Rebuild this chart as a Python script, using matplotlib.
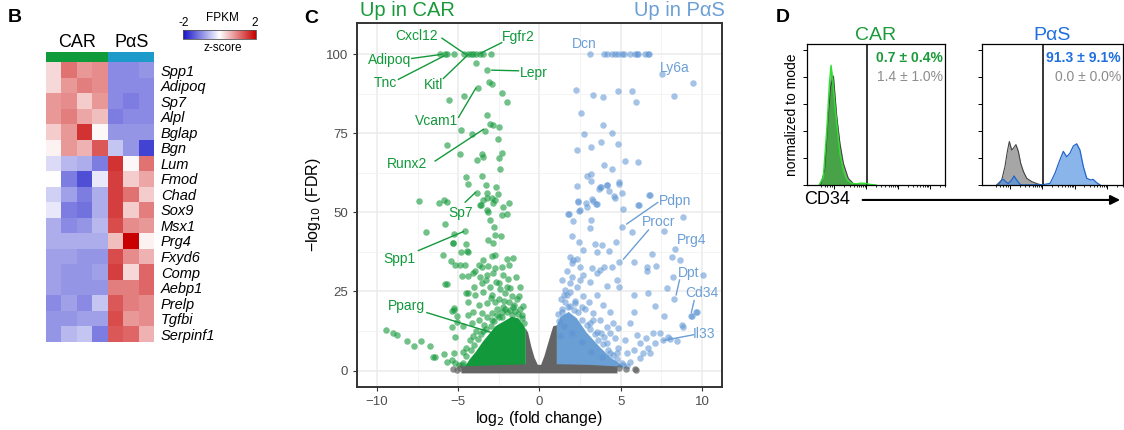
import matplotlib

matplotlib.use("Agg")
import matplotlib.pyplot as plt  # noqa: E402
import numpy as np  # noqa: E402
from matplotlib.cm import ScalarMappable  # noqa: E402
from matplotlib.colors import LinearSegmentedColormap, Normalize  # noqa: E402

plt.rcParams.update(
    {
        "font.family": ["Liberation Sans", "DejaVu Sans"],
        "font.size": 10,
        "figure.facecolor": "white",
        "axes.facecolor": "white",
    }
)

# ---- panel B: heatmap (z-score of FPKM) ----
genes = ["Spp1", "Adipoq", "Sp7", "Alpl", "Bglap", "Bgn", "Lum", "Fmod", "Chad",
         "Sox9", "Msx1", "Prg4", "Fxyd6", "Comp", "Aebp1", "Prelp", "Tgfbi", "Serpinf1"]
groups = ["CAR", "PαS"]
group_sizes = [4, 3]
zscores = [
    [0.3, 1.1, 0.8, 0.9, -1.0, -1.0, -0.9],
    [0.3, 0.8, 1.0, 0.9, -1.0, -1.0, -1.0],
    [0.8, 0.9, 0.4, 0.8, -1.0, -1.1, -1.0],
    [0.8, 1.0, 0.7, 0.5, -1.1, -1.0, -1.0],
    [0.4, 0.8, 1.6, 0.05, -0.9, -0.9, -0.9],
    [0.1, 0.8, 0.6, 1.3, -0.5, -0.9, -1.6],
    [-0.3, -0.6, -0.7, -1.1, 1.6, 0.05, 1.1],
    [0.0, -1.1, -1.5, -0.2, 1.5, 0.4, 0.7],
    [-0.4, -0.8, -1.1, -0.7, 1.5, 1.1, 0.4],
    [-0.2, -1.1, -1.2, -0.7, 1.5, 0.4, 1.0],
    [-0.7, -1.0, -0.9, -0.6, 1.4, 0.9, 0.8],
    [-0.7, -0.7, -0.7, -0.7, 0.5, 2.0, 0.1],
    [-0.8, -0.8, -0.9, -0.9, 1.4, 0.9, 0.6],
    [-0.8, -0.9, -0.9, -0.8, 1.5, 0.3, 1.2],
    [-0.8, -0.9, -0.9, -0.9, 1.0, 1.0, 1.2],
    [-1.0, -0.8, -1.0, -0.5, 1.3, 1.0, 0.9],
    [-0.9, -0.9, -0.8, -0.8, 1.4, 0.8, 0.9],
    [-0.9, -0.6, -0.5, -1.1, 1.3, 1.2, 0.6],
]

# ---- panel C: volcano (log2 fold change, -log10 FDR) ----
car_x = [-6.11, -5.80, -5.66, -5.25, -4.62, -4.37, -4.23, -4.06, -3.92, -3.65, -3.49, -3.00,
         -3.90, -3.20, -3.10, -2.93, -3.79, -4.62, -5.54, -2.28, -2.01, -3.24, -3.04, -2.87,
         -2.48, -4.82, -4.14, -3.34, -2.54, -5.70, -4.92, -3.55, -3.49, -2.32, -2.46, -3.86,
         -2.42, -4.51, -3.55, -4.37, -3.30, -2.67, -3.86, -3.24, -2.58, -7.41, -6.17, -5.87,
         -5.70, -3.69, -3.45, -3.24, -2.83, -1.87, -2.22, -3.24, -2.93, -2.73, -3.59, -3.14,
         -2.32, -2.01, -3.04, -2.77, -4.57, -5.80, -6.99, -2.73, -3.18, -2.83, -2.36, -5.33,
         -4.82, -4.47, -5.91, -3.45, -2.93, -2.73, -2.01, -1.60, -5.44, -5.19, -4.88, -4.57,
         -3.75, -3.55, -3.14, -2.73, -2.32, -1.87, -4.78, -4.41, -4.06, -3.65, -3.24, -2.83,
         -2.22, -1.91, -1.46, -5.80, -5.70, -3.55, -3.04, -2.52, -2.01, -4.51, -4.37, -3.96,
         -3.45, -2.93, -2.15, -1.70, -1.29, -5.23, -5.40, -4.37, -3.75, -3.24, -2.73, -2.22,
         -1.54, -5.09, -4.41, -4.06, -3.55, -2.93, -2.32, -1.70, -5.38, -5.19, -4.68, -4.16,
         -9.44, -8.99, -8.78, -8.16, -7.71, -7.28, -6.73, -6.42, -6.56, -5.87, -5.70, -5.40,
         -5.29, -4.98, -4.68, -5.19, -4.78, -5.25, -5.35, -4.53, -4.41, -3.96, -5.29, -5.09,
         -3.90, -3.40, -2.90, -2.50, -2.00, -1.50, -1.20, -4.30, -4.50, -1.10, -3.70, -3.20,
         -2.60, -1.90, -1.40, -3.00, -2.50, -4.00, -3.30, -2.70, -2.40, -1.80, -1.20,
         -4.70, -4.50, -4.20, -4.00, -3.80, -3.60, -3.30, -3.00, -2.80, -2.60, -2.30, -2.10,
         -1.80, -1.60, -1.30, -1.05, -0.95, -4.40, -3.60, -2.20, -1.00, -3.50, -2.90, -1.60,
         -4.10, -3.30, -2.00, -1.20, -2.60, -3.80]
car_y = [100, 100, 100, 100, 100, 100, 100, 100, 100, 100, 100, 100,
         97.1, 94.9, 91.3, 90.5, 89.4, 86.8, 85.4, 87.6, 84.9, 80.7, 77.9, 77.5,
         77.1, 76.0, 74.7, 75.8, 73.2, 71.1, 68.3, 68.4, 67.6, 68.8, 67.0, 66.5,
         63.6, 61.3, 61.5, 58.8, 58.6, 57.9, 56.0, 56.0, 55.7, 53.5, 52.8, 53.9,
         53.1, 52.3, 53.9, 54.4, 52.8, 52.8, 51.6, 50.7, 54.4, 53.9, 52.3, 50.2,
         49.2, 49.3, 47.6, 45.5, 44.1, 46.2, 43.7, 42.8, 41.3, 40.2, 42.5, 40.2,
         37.6, 37.7, 36.5, 34.9, 36.2, 36.4, 35.3, 35.5, 34.6, 33.4, 33.4, 33.4,
         33.4, 32.6, 33.1, 32.3, 32.6, 33.4, 29.9, 29.9, 30.9, 29.7, 30.2, 30.7,
         30.2, 28.8, 29.7, 27.4, 27.4, 27.6, 26.5, 27.6, 26.5, 24.4, 24.4, 23.9,
         24.9, 23.9, 24.4, 23.4, 23.4, 19.7, 18.9, 21.8, 20.7, 21.3, 21.8, 20.2,
         20.7, 17.1, 17.6, 18.6, 18.1, 18.1, 18.6, 17.6, 13.9, 10.7, 14.1, 14.9,
         12.8, 11.8, 11.3, 9.2, 7.9, 9.4, 7.6, 4.4, 4.4, 5.2, 2.8, 3.4,
         5.5, 1.8, 6.0, 2.5, 1.8, 43.1, 40.2, 39.9, 37.6, 31.3, 19.2, 15.2,
         12.5, 14.5, 16.0, 16.8, 18.5, 18.8, 19.5, 9.5, 7.0, 17.5, 16.0, 17.0,
         19.5, 21.5, 22.5, 22.8, 22.5, 26.5, 28.5, 28.0, 25.8, 26.0, 26.5,
         2.5, 4.5, 6.5, 8.0, 10.0, 11.5, 13.0, 14.0, 15.5, 17.5, 17.0, 19.5,
         19.0, 20.0, 18.0, 16.5, 15.0, 1.5, 4.0, 22.0, 20.5, 12.5, 11.0, 15.0,
         11.0, 8.0, 14.0, 12.0, 12.0, 3.5]

pas_x = [3.12, 3.98, 4.14, 4.45, 4.66, 4.86, 5.07, 5.21, 5.58, 5.89, 5.99, 6.09, 6.50, 6.65,
         6.77, 7.53, 9.44, 8.25, 2.26, 3.32, 3.88, 4.86, 5.72, 5.95, 2.56, 3.94, 2.75, 4.49,
         2.30, 3.18, 3.79, 4.82, 4.00, 4.49, 5.29, 6.09, 2.95, 3.18, 3.18, 2.28, 3.69, 3.79,
         4.14, 4.31, 4.92, 5.07, 6.81, 2.40, 2.46, 2.87, 3.24, 3.53, 4.66, 5.17, 6.13, 1.78,
         8.82, 3.73, 4.18, 4.92, 4.59, 6.77, 3.28, 3.49, 2.40, 2.50, 6.09, 2.95, 1.83, 2.05,
         3.18, 3.10, 5.07, 5.72, 7.69, 2.03, 2.46, 2.71, 3.43, 3.84, 4.25, 4.72, 3.53, 1.85,
         2.09, 2.30, 1.99, 2.50, 3.22, 3.73, 3.98, 4.45, 4.92, 5.79, 6.91, 8.14, 8.35, 8.66,
         7.18, 6.61, 10.09, 8.20, 7.84, 8.29, 6.71, 5.79, 4.80, 4.92, 4.14, 3.53, 3.12, 7.12,
         7.67, 9.31, 9.64, 8.76, 8.86, 7.43, 6.97, 6.57, 5.99, 5.58, 5.79, 4.86, 4.35, 5.27,
         6.20, 6.71, 7.12, 7.63, 8.04, 6.40, 6.20, 5.58, 5.17, 4.76, 3.84, 6.81, 7.94, 8.45,
         9.68, 9.37, 1.37, 1.58, 1.48, 1.89, 2.30, 2.71, 2.19, 2.61, 3.02, 3.53, 3.94, 4.35,
         1.78, 1.37, 3.73, 4.55, 3.12, 4.14, 3.53, 4.66, 4.14, 4.86, 4.35, 5.37, 5.79, 1.99,
         1.68, 2.71, 2.50, 1.89, 3.32, 6.60,
         1.20, 1.15, 1.40, 1.60, 1.90, 2.10, 2.40, 2.60, 2.90, 3.10, 3.40, 3.60, 3.90, 4.20,
         4.50, 4.80, 5.10, 5.40, 1.30, 1.70, 2.20, 2.80, 3.30, 3.80, 4.00, 1.50, 2.00, 2.60,
         3.20, 1.25]
pas_y = [100, 100, 100, 100, 100, 100, 100, 100, 100, 100, 100, 100, 100, 100,
         100, 93.6, 90.9, 86.8, 88.6, 87.2, 86.3, 88.3, 88.4, 84.9, 81.4, 77.7, 74.6, 75.2,
         69.8, 70.6, 72.1, 71.6, 64.9, 63.7, 66.3, 65.8, 61.6, 62.1, 60.0, 58.3, 57.3, 57.9,
         58.6, 56.7, 59.5, 56.0, 55.6, 53.5, 50.5, 52.8, 54.1, 52.6, 54.6, 51.1, 52.2, 49.4,
         48.4, 58.0, 58.6, 58.9, 55.2, 55.5, 53.7, 52.6, 53.4, 50.7, 52.3, 51.8, 49.5, 47.3,
         47.6, 45.0, 45.3, 43.7, 44.2, 42.5, 40.7, 38.1, 39.9, 39.7, 37.8, 40.7, 37.6, 35.8,
         34.9, 35.2, 33.9, 32.6, 32.3, 31.8, 32.6, 32.6, 34.4, 34.4, 36.8, 36.0, 38.3, 34.9,
         33.1, 31.6, 30.2, 29.4, 26.0, 22.5, 24.4, 23.9, 28.6, 26.5, 26.7, 30.7, 28.1, 20.5,
         17.1, 17.1, 18.6, 14.4, 13.7, 12.0, 12.0, 10.2, 11.3, 14.9, 18.6, 13.4, 11.8, 9.7,
         8.6, 7.1, 8.6, 9.5, 9.9, 5.5, 3.9, 2.8, 1.8, 5.5, 4.4, 5.5, 10.7, 9.2,
         18.6, 17.1, 28.6, 25.5, 23.9, 24.9, 26.5, 23.4, 21.3, 20.2, 21.8, 23.9, 20.7, 18.6,
         20.2, 18.6, 16.0, 14.9, 14.9, 13.9, 12.3, 10.2, 8.6, 7.1, 5.5, 5.5, 6.5, 29.7,
         31.3, 30.2, 28.6, 27.6, 18.1, 32.8,
         15.5, 18.0, 19.5, 21.5, 20.5, 19.0, 18.5, 16.0, 14.5, 13.0, 11.5, 9.5, 8.5, 6.5,
         5.0, 3.5, 2.5, 1.5, 22.5, 24.0, 22.0, 19.5, 16.0, 12.0, 10.5, 14.0, 12.0, 9.0,
         6.0, 11.0]

ns_x = [-5.33, -5.10, -4.90, 4.90, 5.30, 5.90, 5.95]
ns_y = [0.5, 0.3, 0.9, 0.8, 0.4, 0.5, 0.2]

# outlines of the saturated, over-plotted cores
car_core_x = [-4.6, -4.3, -3.9, -3.5, -3.1, -2.7, -2.2, -1.7, -1.3, -1.0, -0.84, -0.84]
car_core_y = [1.0, 3.5, 6.0, 9.0, 11.5, 14.0, 15.5, 17.0, 16.5, 14.5, 13.0, 1.0]
pas_core_x = [1.05, 1.05, 1.3, 1.8, 2.3, 2.9, 3.7, 4.4, 5.0, 5.2]
pas_core_y = [1.0, 14.0, 17.0, 18.5, 16.5, 12.0, 7.5, 4.0, 2.0, 1.0]
ns_core_x = [-4.8, -4.8, -0.84, -0.84, -0.7, -0.5, -0.3, -0.1, 0.1, 0.3, 0.5, 0.7, 0.85,
             1.07, 1.07, 3.0, 4.8, 4.8]
ns_core_y = [-0.9, 1.3, 2.0, 13.2, 12.0, 7.5, 4.0, 1.8, 1.8, 4.5, 8.0, 11.5, 14.0,
             14.3, 2.0, 1.8, 1.3, -0.9]

# ---- panel D: CD34 histograms (normalized to mode) ----
car_hist_x = [0.09, 0.12, 0.145, 0.164, 0.176, 0.188, 0.205, 0.222, 0.24, 0.265, 0.29,
              0.325, 0.36, 0.39, 0.42, 0.46, 0.50]
car_hist_cd34 = [0.0, 0.06, 0.41, 0.756, 0.89, 0.78, 0.58, 0.41, 0.235, 0.11, 0.037,
                 0.012, 0.008, 0.014, 0.012, 0.004, 0.0]
car_ctrl_x = [0.10, 0.13, 0.157, 0.173, 0.193, 0.217, 0.24, 0.265, 0.30, 0.337, 0.37]
car_ctrl_y = [0.0, 0.11, 0.53, 0.73, 0.81, 0.51, 0.31, 0.16, 0.05, 0.01, 0.0]
pas_ctrl_x = [0.106, 0.142, 0.165, 0.182, 0.196, 0.213, 0.225, 0.243, 0.26, 0.277, 0.296,
              0.319, 0.355, 0.40, 0.426]
pas_ctrl_y = [0.0, 0.037, 0.137, 0.25, 0.323, 0.26, 0.274, 0.30, 0.25, 0.16, 0.10,
              0.05, 0.025, 0.007, 0.0]
pas_hist_x = [0.118, 0.142, 0.154, 0.175, 0.189, 0.213, 0.229, 0.248, 0.272, 0.29,
              0.437, 0.485, 0.52, 0.55, 0.579, 0.603, 0.626, 0.65, 0.674, 0.697, 0.721,
              0.745, 0.773, 0.79, 0.816, 0.84]
pas_hist_cd34 = [0.0, 0.037, 0.042, 0.02, 0.012, 0.037, 0.067, 0.037, 0.005, 0.0,
                 0.003, 0.012, 0.087, 0.174, 0.25, 0.21, 0.236, 0.29, 0.306, 0.26, 0.137,
                 0.05, 0.037, 0.042, 0.017, 0.0]
gate_pct = {"CAR": ("0.7 ± 0.4%", "1.4 ± 1.0%"), "PαS": ("91.3 ± 9.1%", "0.0 ± 0.0%")}

GREEN = "#12993b"
BLUE = "#5b93d3"
GROUP_COLORS = ["#0f9a3c", "#1c9bcb"]


def draw_heatmap(fig):
    cmap = LinearSegmentedColormap.from_list("fpkm", ["#1414c8", "#ffffff", "#c80000"])
    ax = fig.add_axes([0.0409, 0.2047, 0.0965, 0.6505])
    ax.pcolormesh(np.array(zscores), cmap=cmap, vmin=-2, vmax=2)
    ax.set_ylim(len(genes), 0)
    ax.set_xticks([])
    ax.yaxis.tick_right()
    ax.set_yticks(np.arange(len(genes)) + 0.5, genes, fontsize=10.5, style="italic")
    ax.tick_params(axis="y", length=0, pad=4.5)
    for s in ax.spines.values():
        s.set_visible(False)

    strip = fig.add_axes([0.0409, 0.855, 0.0965, 0.0247])
    starts = np.cumsum([0] + group_sizes[:-1])
    strip.bar(starts, [1, 1], width=group_sizes, align="edge", color=GROUP_COLORS)
    strip.set_xlim(0, sum(group_sizes))
    strip.set_ylim(0, 1)
    strip.axis("off")
    for st, w, g in zip(starts, group_sizes, groups):
        strip.text(st + w / 2, 1.9, g, ha="center", va="center", fontsize=13)

    cax = fig.add_axes([0.1628, 0.9093, 0.065, 0.0209])
    cb = fig.colorbar(ScalarMappable(Normalize(-2, 2), cmap), cax=cax, orientation="horizontal")
    cb.set_ticks([])
    cb.outline.set_linewidth(0.6)
    cb.outline.set_edgecolor("#555555")
    fig.text(0.1637, 0.947, "-2", ha="center", va="center", fontsize=8.5)
    fig.text(0.2269, 0.947, "2", ha="center", va="center", fontsize=8.5)
    fig.text(0.1981, 0.957, "FPKM", ha="center", va="center", fontsize=8.5)
    fig.text(0.1981, 0.889, "z-score", ha="center", va="center", fontsize=8.5)


def draw_volcano(fig):
    ax = fig.add_axes([0.3176, 0.1, 0.3247, 0.8465])
    ax.set_xlim(-11.23, 11.23)
    ax.set_ylim(-5.2, 109.8)
    ax.set_xticks([-10, -5, 0, 5, 10], ["−10", "−5", "0", "5", "10"])
    ax.set_yticks([0, 25, 50, 75, 100])
    ax.set_xticks([-7.5, -2.5, 2.5, 7.5], minor=True)
    ax.set_yticks([12.5, 37.5, 62.5, 87.5], minor=True)
    ax.grid(which="major", color="#ebebeb", linewidth=1.1)
    ax.grid(which="minor", color="#f2f2f2", linewidth=0.6)
    ax.set_axisbelow(True)
    ax.tick_params(which="major", labelsize=9.5, labelcolor="#4d4d4d", color="#333333",
                   length=3, width=0.8)
    ax.tick_params(which="minor", length=0)
    for s in ax.spines.values():
        s.set_color("#333333")
        s.set_linewidth(1.4)

    ax.fill(car_core_x, car_core_y, color=GREEN, lw=0, zorder=2)
    ax.fill(pas_core_x, pas_core_y, color="#6a9fd6", lw=0, zorder=2)
    ax.scatter(car_x, car_y, s=22, color=GREEN, alpha=0.6, lw=0, zorder=3)
    ax.scatter(pas_x, pas_y, s=22, color=BLUE, alpha=0.55, lw=0, zorder=3)
    ax.fill(ns_core_x, ns_core_y, color="#646464", lw=0, zorder=4)
    ax.scatter(ns_x, ns_y, s=22, color="#646464", alpha=0.7, lw=0, zorder=4)

    ax.set_xlabel("log$_2$ (fold change)", fontsize=11.5, labelpad=1)
    ax.set_ylabel("−log$_{10}$ (FDR)", fontsize=11.5, labelpad=2)

    green_labels = [
        ("Cxcl12", (-7.59, 105.7), (-6.0, 105.0), (-4.57, 100.0)),
        ("Fgfr2", (-1.29, 105.3), (-2.32, 103.6), (-3.65, 100.2)),
        ("Adipoq", (-9.23, 98.1), (-7.86, 98.6), (-6.01, 99.9)),
        ("Tnc", (-9.5, 90.9), (-8.68, 92.0), (-5.87, 99.4)),
        ("Kitl", (-6.52, 90.2), (-5.91, 92.3), (-4.37, 99.9)),
        ("Lepr", (-0.37, 94.1), (-1.29, 94.7), (-2.93, 94.9)),
        ("Vcam1", (-6.36, 78.9), (-4.98, 80.0), (-3.92, 89.2)),
        ("Runx2", (-8.12, 65.2), (-6.42, 66.2), (-3.45, 76.2)),
        ("Sp7", (-4.88, 49.7), (-4.57, 53.2), (-3.95, 56.2)),
        ("Spp1", (-8.62, 35.2), (-7.45, 37.9), (-4.68, 43.9)),
        ("Pparg", (-8.2, 20.4), (-6.93, 18.3), (-2.83, 11.8)),
    ]
    blue_labels = [
        ("Dcn", (2.75, 103.1), None, None),
        ("Ly6a", (8.35, 95.7), None, None),
        ("Pdpn", (8.35, 53.7), (7.28, 53.1), (5.37, 46.3)),
        ("Procr", (7.36, 46.8), (6.71, 44.4), (5.17, 35.2)),
        ("Prg4", (9.35, 41.3), None, None),
        ("Dpt", (9.17, 30.7), (8.62, 28.6), (8.41, 23.9)),
        ("Cd34", (9.97, 24.4), (9.52, 22.1), (9.35, 18.4)),
        ("Il33", (10.1, 11.6), (9.48, 11.3), (7.63, 9.5)),
    ]
    for labels, col in ((green_labels, GREEN), (blue_labels, "#6b9fd6")):
        for name, txy, p0, p1 in labels:
            ax.text(*txy, name, color=col, fontsize=10, ha="center", va="center", zorder=6)
            if p0 is not None:
                ax.plot([p0[0], p1[0]], [p0[1], p1[1]], color=col, lw=1.0, zorder=5)

    fig.text(0.3203, 0.975, "Up in CAR", color="#1a9a3a", fontsize=14.5, ha="left",
             va="center")
    fig.text(0.645, 0.975, "Up in PαS", color="#6b9fd6", fontsize=14.5, ha="right",
             va="center")


def _flow_axes(fig, rect):
    ax = fig.add_axes(rect)
    ax.set_xlim(0, 1)
    ax.set_ylim(0, 1.046)
    ax.set_yticks([0, 0.2, 0.4, 0.6, 0.8, 1.0], [])
    minor = []
    for d0 in (0.2, 0.43, 0.66, 0.89):
        minor += [d0 + 0.23 * np.log10(k) for k in range(2, 10) if d0 + 0.23 * np.log10(k) < 1]
    ax.set_xticks([0.2, 0.43, 0.66, 0.89], [])
    ax.set_xticks(minor + [0.10, 0.13, 0.15, 0.17, 0.185], minor=True)
    ax.tick_params(axis="y", length=3, width=0.7, direction="out")
    ax.tick_params(axis="x", which="major", length=3, width=0.7, direction="out")
    ax.tick_params(axis="x", which="minor", length=1.6, width=0.6, direction="out")
    for s in ax.spines.values():
        s.set_linewidth(0.9)
    ax.axvline(0.435, color="black", lw=1.1)
    return ax


def draw_flow(fig):
    ax = _flow_axes(fig, [0.7177, 0.5698, 0.1232, 0.3272])
    ax.fill_between(car_ctrl_x, car_ctrl_y, color="#9a9a9a", lw=0)
    ax.plot(car_ctrl_x, car_ctrl_y, color="#444444", lw=0.8)
    ax.fill_between(car_hist_x, car_hist_cd34, color="#3aa53a", alpha=0.85, lw=0)
    ax.plot(car_hist_x, car_hist_cd34, color="#2ee02e", lw=1.0)
    ax.text(0.985, 0.905, gate_pct["CAR"][0], transform=ax.transAxes, ha="right",
            va="center", fontsize=10, fontweight="bold", color="#1a9a3a")
    ax.text(0.985, 0.77, gate_pct["CAR"][1], transform=ax.transAxes, ha="right",
            va="center", fontsize=10, color="#8c8c8c")
    ax.set_title("CAR", color="#1a9a3a", fontsize=14, pad=3)

    ax2 = _flow_axes(fig, [0.8734, 0.5698, 0.1254, 0.3272])
    ax2.fill_between(pas_ctrl_x, pas_ctrl_y, color="#a6a6a6", lw=0)
    ax2.plot(pas_ctrl_x, pas_ctrl_y, color="#444444", lw=0.8)
    ax2.fill_between(pas_hist_x, pas_hist_cd34, color="#4a8ee0", alpha=0.65, lw=0)
    ax2.plot(pas_hist_x, pas_hist_cd34, color="#2266cc", lw=0.9)
    ax2.text(0.988, 0.905, gate_pct["PαS"][0], transform=ax2.transAxes, ha="right",
             va="center", fontsize=10, fontweight="bold", color="#1f6fe0")
    ax2.text(0.988, 0.77, gate_pct["PαS"][1], transform=ax2.transAxes, ha="right",
             va="center", fontsize=10, color="#8c8c8c")
    ax2.set_title("PαS", color="#1f6fe0", fontsize=14, pad=3)

    fig.text(0.7044, 0.733, "normalized to mode", rotation=90, ha="center", va="center",
             fontsize=10)
    fig.text(0.7355, 0.535, "CD34", ha="center", va="center", fontsize=13)
    fig.patches.append(
        matplotlib.patches.FancyArrowPatch(
            (0.765, 0.535), (0.999, 0.535), transform=fig.transFigure, arrowstyle="-|>",
            mutation_scale=14, color="black", lw=1.5
        )
    )


fig = plt.figure(figsize=(11.24, 4.30), dpi=100)
draw_heatmap(fig)
draw_volcano(fig)
draw_flow(fig)
for letter, xy in (("B", (0.0133, 0.96)), ("C", (0.2767, 0.958)), ("D", (0.6966, 0.96))):
    fig.text(*xy, letter, fontsize=14, fontweight="bold", ha="center", va="center")
fig.savefig("out.png", dpi=100)
